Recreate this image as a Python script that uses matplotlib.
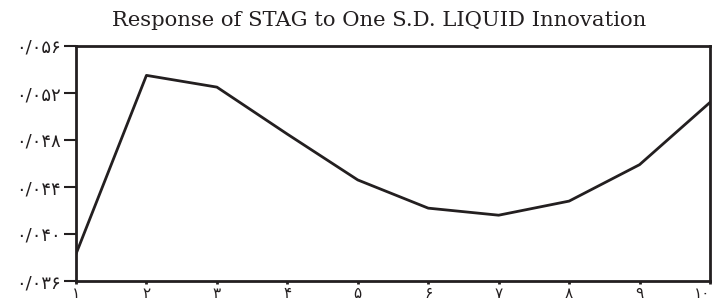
import matplotlib
matplotlib.use("Agg")
import matplotlib.pyplot as plt

# impulse response
periods = [1, 2, 3, 4, 5, 6, 7, 8, 9, 10]
response = [0.0383, 0.0535, 0.0525, 0.0485, 0.0446, 0.0422, 0.0416, 0.0428, 0.0459, 0.0512]

x_labels = ["۱", "۲", "۳", "۴", "۵", "۶", "۷", "۸", "۹", "۱۰"]
y_ticks = [0.036, 0.040, 0.044, 0.048, 0.052, 0.056]
y_labels = ["۰/۰۳۶", "۰/۰۴۰", "۰/۰۴۴", "۰/۰۴۸", "۰/۰۵۲", "۰/۰۵۶"]

title = "Response of STAG to One S.D. LIQUID Innovation"

ink = "#231f20"

fig = plt.figure(figsize=(7.15, 3.06), dpi=100)
ax = fig.add_axes([76 / 715, 25 / 306, 634 / 715, 235 / 306])

ax.plot(periods, response, color=ink, lw=2.0)

ax.set_xlim(1, 10)
ax.set_ylim(y_ticks[0], y_ticks[-1])
ax.set_xticks(periods)
ax.set_xticklabels(x_labels, fontsize=11, family="DejaVu Sans", color=ink)
ax.set_yticks(y_ticks)
ax.set_yticklabels(y_labels, fontsize=13, family="DejaVu Sans", color=ink)
# last label sits on the right edge; keep it inside the picture
ax.get_xticklabels()[-1].set_horizontalalignment("right")

for s in ax.spines.values():
    s.set_linewidth(2.0)
    s.set_color(ink)

ax.tick_params(axis="y", direction="out", length=9, width=1.5, color=ink, pad=2)
ax.tick_params(axis="x", direction="out", length=2.5, width=2, color=ink, pad=1)

fig.text(379.5 / 715, 1 - 21 / 306, title, ha="center", va="center",
         family="DejaVu Serif", fontsize=15.2, color=ink)

fig.savefig("out.png", dpi=100)
